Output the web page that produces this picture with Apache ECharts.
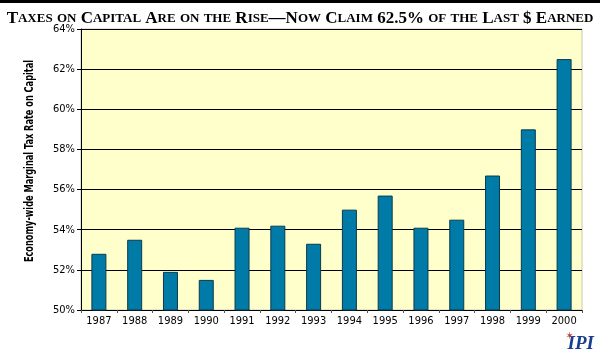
<!DOCTYPE html>
<html><head><meta charset="utf-8">
<script src="https://cdn.jsdelivr.net/npm/echarts@6/dist/echarts.min.js"></script>
<style>html,body{margin:0;padding:0;background:#fff}#c{width:600px;height:357px}</style>
</head><body><div id="c"></div>
<script>
var categories = ['1987','1988','1989','1990','1991','1992','1993','1994','1995','1996','1997','1998','1999','2000'];
var rates = [52.8, 53.5, 51.9, 51.5, 54.1, 54.2, 53.3, 55.0, 55.7, 54.1, 54.5, 56.7, 59.0, 62.5];
var yTicks = [50, 52, 54, 56, 58, 60, 62, 64];
var titleText = 'Taxes on Capital Are on the Rise\u2014Now Claim 62.5% of the Last $ Earned';
var yName = 'Economy-wide Marginal Tax Rate on Capital';

var narrow = '"DejaVu Sans Condensed", "Roboto Condensed", Roboto, sans-serif';

// small-caps emulation with rich text
function smallCaps(s) {
  var out = '', cur = null, buf = '';
  function flush() { if (buf) { out += '{' + cur + '|' + buf + '}'; buf = ''; } }
  for (var i = 0; i < s.length; i++) {
    var ch = s[i];
    var isLower = ch !== ch.toUpperCase();
    var st = isLower ? 's' : 'b';
    if (st !== cur) { flush(); cur = st; }
    buf += isLower ? ch.toUpperCase() : ch;
  }
  flush();
  return out;
}

var chart = echarts.init(document.getElementById('c'), null, {renderer: 'canvas'});
chart.setOption({
  animation: false,
  backgroundColor: '#ffffff',
  title: {
    text: smallCaps(titleText),
    left: 'center', top: 5,
    textStyle: {
      rich: {
        b: {fontFamily: 'Liberation Serif', fontWeight: 'bold', fontSize: 17, color: '#000'},
        s: {fontFamily: 'Liberation Serif', fontWeight: 'bold', fontSize: 13, color: '#000'}
      }
    }
  },
  graphic: [
    {type: 'rect', shape: {x: 0, y: 0, width: 600, height: 3}, style: {fill: '#000'}},
    {type: 'text', x: 30, y: 161, rotation: Math.PI / 2, scaleX: 0.76,
      style: {text: yName, fill: '#000', font: 'bold 12px "DejaVu Sans Condensed", sans-serif', align: 'center', verticalAlign: 'middle'}},
    {type: 'text', right: 6, bottom: 3, style: {text: 'IPI', fill: '#1a3f8f', font: 'italic bold 19px "Liberation Serif"'}},
    {type: 'text', right: 26, bottom: 16, style: {text: '\u2736', fill: '#c0392b', font: '10px "DejaVu Sans"'}}
  ],
  grid: {left: 81, right: 18, top: 29, bottom: 47, show: true, backgroundColor: '#ffffcc', borderColor: '#c8c8b0', borderWidth: 1},
  xAxis: {
    type: 'category', data: categories,
    axisLine: {lineStyle: {color: '#000', width: 1}},
    axisTick: {show: true, length: 3, lineStyle: {color: '#555'}},
    axisLabel: {color: '#000', fontFamily: narrow, fontSize: 11, margin: 6}
  },
  yAxis: {
    type: 'value', min: 50, max: 64, interval: 2,
    axisLine: {show: true, lineStyle: {color: '#000', width: 1}},
    axisTick: {show: true, length: 4, lineStyle: {color: '#000'}},
    axisLabel: {color: '#000', fontFamily: narrow, fontSize: 11, margin: 6,
      formatter: function (v) { return yTicks.indexOf(v) >= 0 ? v + '%' : ''; }},
    splitLine: {show: true, lineStyle: {color: '#000', width: 1}}
  },
  series: [{
    type: 'bar', data: rates, barWidth: 15,
    itemStyle: {color: '#007aa6', borderColor: '#0b3a4c', borderWidth: 1}
  }]
});
</script>
</body></html>
